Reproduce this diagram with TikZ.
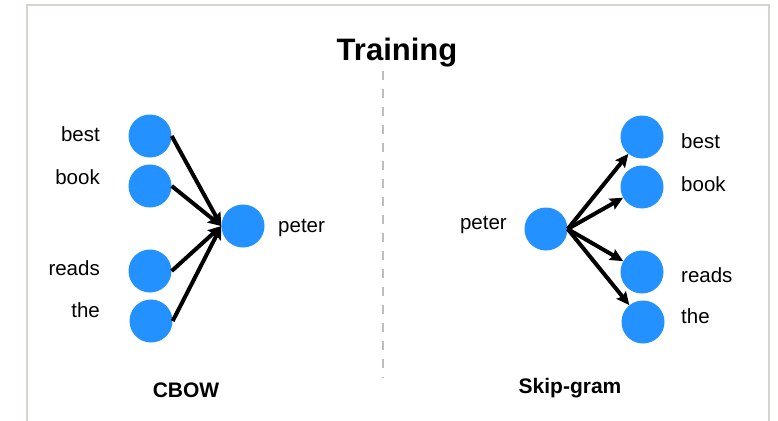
\documentclass[tikz,border=0pt]{standalone}
\usepackage{fontspec}
\setmainfont{Liberation Sans}
\usetikzlibrary{arrows.meta}
\definecolor{wordblue}{RGB}{35,145,255}
\definecolor{framegray}{RGB}{214,212,204}
\definecolor{splitgray}{RGB}{190,190,190}
\tikzset{
	word/.style={circle, fill=wordblue, minimum size=43pt, inner sep=0pt},
	wlabel/.style={font=\fontsize{20.5}{24}\selectfont, inner sep=0pt},
	sublabel/.style={font=\fontsize{21}{25}\selectfont\bfseries, inner sep=0pt},
	feed/.style={line width=4pt, -{Stealth[length=13pt, width=12pt, inset=2pt]}}
}
\begin{document}
\begin{tikzpicture}[x=1pt, y=-1pt]
			%%%%% START %%%%%
			\useasboundingbox (0, 0) rectangle (778, 420);
			\fill[white] (0, 0) rectangle (778, 420);
			\draw[line width=2.6pt, color=framegray] (27, 5) rectangle (769, 440);
			
			\node[font=\fontsize{31}{36}\selectfont\bfseries, inner sep=0pt, anchor=base] (title) at (397, 60) {Training};
			\draw[line width=2.4pt, color=splitgray, dash pattern=on 9pt off 9pt] (383, 71) -- (383, 378);
			
			% CBOW
			\node[word] (cbest) at (150, 136) {};
			\node[word] (cbook) at (150, 186) {};
			\node[word] (creads) at (150, 271) {};
			\node[word] (cthe) at (151, 321) {};
			\node[word] (cpeter) at (243, 226) {};
			
			\node[wlabel, anchor=base east] (lcbest) at (100, 141) {best};
			\node[wlabel, anchor=base east] (lcbook) at (100, 184) {book};
			\node[wlabel, anchor=base east] (lcreads) at (100, 275) {reads};
			\node[wlabel, anchor=base east] (lcthe) at (100, 317) {the};
			\node[wlabel, anchor=base west] (lcpeter) at (278, 232) {peter};
			
			\draw[feed] (cbest.east) -- (cpeter.west);
			\draw[feed] (cbook.east) -- (cpeter.west);
			\draw[feed] (creads.east) -- (cpeter.west);
			\draw[feed] (cthe.east) -- (cpeter.west);
			
			\node[sublabel, anchor=base] (cbow) at (186, 397) {CBOW};
			
			% Skip-gram
			\node[word] (speter) at (546, 229) {};
			\node[word] (sbest) at (642, 137) {};
			\node[word] (sbook) at (642, 187) {};
			\node[word] (sreads) at (642, 272) {};
			\node[word] (sthe) at (643, 322) {};
			
			\node[wlabel, anchor=base east] (lspeter) at (507, 229) {peter};
			\node[wlabel, anchor=base west] (lsbest) at (681, 148) {best};
			\node[wlabel, anchor=base west] (lsbook) at (681, 191) {book};
			\node[wlabel, anchor=base west] (lsreads) at (681, 282) {reads};
			\node[wlabel, anchor=base west] (lsthe) at (681, 323) {the};
			
			\draw[feed] (speter.east) -- (sbest);
			\draw[feed] (speter.east) -- (sbook);
			\draw[feed] (speter.east) -- (sreads);
			\draw[feed] (speter.east) -- (sthe);
			
			\node[sublabel, anchor=base] (skip) at (570, 393) {Skip-gram};
			%%%%% END %%%%%
\end{tikzpicture}
\end{document}
